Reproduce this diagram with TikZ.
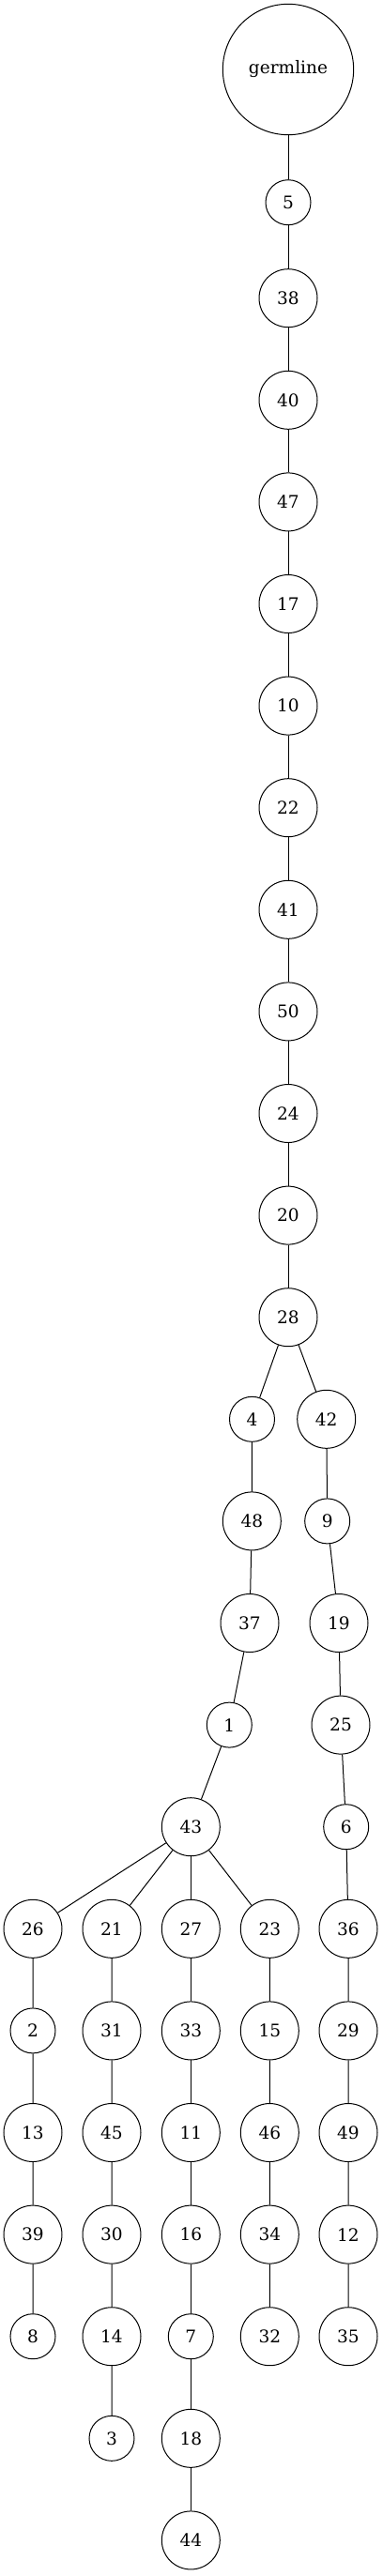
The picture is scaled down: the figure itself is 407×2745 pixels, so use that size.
\documentclass[tikz,border=0pt]{standalone}
\usepackage{fontspec}
\setmainfont{DejaVu Serif}
\begin{document}
\begin{tikzpicture}[x=0.75pt,y=-0.75pt,
  base/.style={circle,draw,line width=0.75pt,inner sep=0pt,font=\fontsize{13.9}{16}\selectfont},
  sm/.style={base,minimum size=36pt},
  bg/.style={base,minimum size=46.5pt},
  root/.style={base,minimum size=104.5pt},
  edge/.style={line width=0.75pt}]
\useasboundingbox (0,0) rectangle (407,2745);
% main chain
\node[root] (germline) at (307,74) {germline};
\node[sm] (n5) at (307,215.7) {5};
\node[bg] (n38) at (307,317.7) {38};
\node[bg] (n40) at (307,426.3) {40};
\node[bg] (n47) at (307,534.9) {47};
\node[bg] (n17) at (307,643.5) {17};
\node[bg] (n10) at (307,752.1) {10};
\node[bg] (n22) at (307,860.7) {22};
\node[bg] (n41) at (307,969.3) {41};
\node[bg] (n50) at (307,1077.9) {50};
\node[bg] (n24) at (307,1186.5) {24};
\node[bg] (n20) at (307,1295.1) {20};
\node[bg] (n28) at (307,1403.7) {28};
% left branch
\node[sm] (n4) at (268.5,1512.3) {4};
\node[bg] (n48) at (268.3,1620.9) {48};
\node[bg] (n37) at (266,1729.5) {37};
\node[sm] (n1) at (244.3,1838.1) {1};
\node[bg] (n43) at (203.3,1946.7) {43};
% right branch
\node[bg] (n42) at (347.7,1512.3) {42};
\node[sm] (n9) at (348.7,1620.9) {9};
\node[bg] (n19) at (361,1729.5) {19};
\node[bg] (n25) at (363,1838.1) {25};
\node[sm] (n6) at (368.7,1946.7) {6};
\node[bg] (n36) at (371,2055.3) {36};
\node[bg] (n29) at (371,2163.9) {29};
\node[bg] (n49) at (371,2272.5) {49};
\node[bg] (n12) at (371,2381.1) {12};
\node[bg] (n35) at (371,2489.7) {35};
% children of 43
\node[bg] (n26) at (35,2055.3) {26};
\node[sm] (n2) at (35,2163.9) {2};
\node[bg] (n13) at (35,2272.5) {13};
\node[bg] (n39) at (35,2381.1) {39};
\node[sm] (n8) at (35,2489.7) {8};
\node[bg] (n21) at (119,2055.3) {21};
\node[bg] (n31) at (119,2163.9) {31};
\node[bg] (n45) at (119,2272.5) {45};
\node[bg] (n30) at (119,2381.1) {30};
\node[bg] (n14) at (119,2489.7) {14};
\node[sm] (n3) at (119,2598.3) {3};
\node[bg] (n27) at (203.3,2055.3) {27};
\node[bg] (n33) at (203.3,2163.9) {33};
\node[bg] (n11) at (203.3,2272.5) {11};
\node[bg] (n16) at (203.3,2381.1) {16};
\node[sm] (n7) at (203.3,2489.7) {7};
\node[bg] (n18) at (203.3,2598.3) {18};
\node[bg] (n44) at (203.3,2706.9) {44};
\node[bg] (n23) at (287.3,2055.3) {23};
\node[bg] (n15) at (287.3,2163.9) {15};
\node[bg] (n46) at (287.3,2272.5) {46};
\node[bg] (n34) at (287.3,2381.1) {34};
\node[bg] (n32) at (287.3,2489.7) {32};
% edges
\draw[edge] (germline) -- (n5) -- (n38) -- (n40) -- (n47) -- (n17) -- (n10) -- (n22) -- (n41) -- (n50) -- (n24) -- (n20) -- (n28);
\draw[edge] (n28) -- (n4) -- (n48) -- (n37) -- (n1) -- (n43);
\draw[edge] (n28) -- (n42) -- (n9) -- (n19) -- (n25) -- (n6) -- (n36) -- (n29) -- (n49) -- (n12) -- (n35);
\draw[edge] (n43) -- (n26) -- (n2) -- (n13) -- (n39) -- (n8);
\draw[edge] (n43) -- (n21) -- (n31) -- (n45) -- (n30) -- (n14) -- (n3);
\draw[edge] (n43) -- (n27) -- (n33) -- (n11) -- (n16) -- (n7) -- (n18) -- (n44);
\draw[edge] (n43) -- (n23) -- (n15) -- (n46) -- (n34) -- (n32);
\end{tikzpicture}
\end{document}
